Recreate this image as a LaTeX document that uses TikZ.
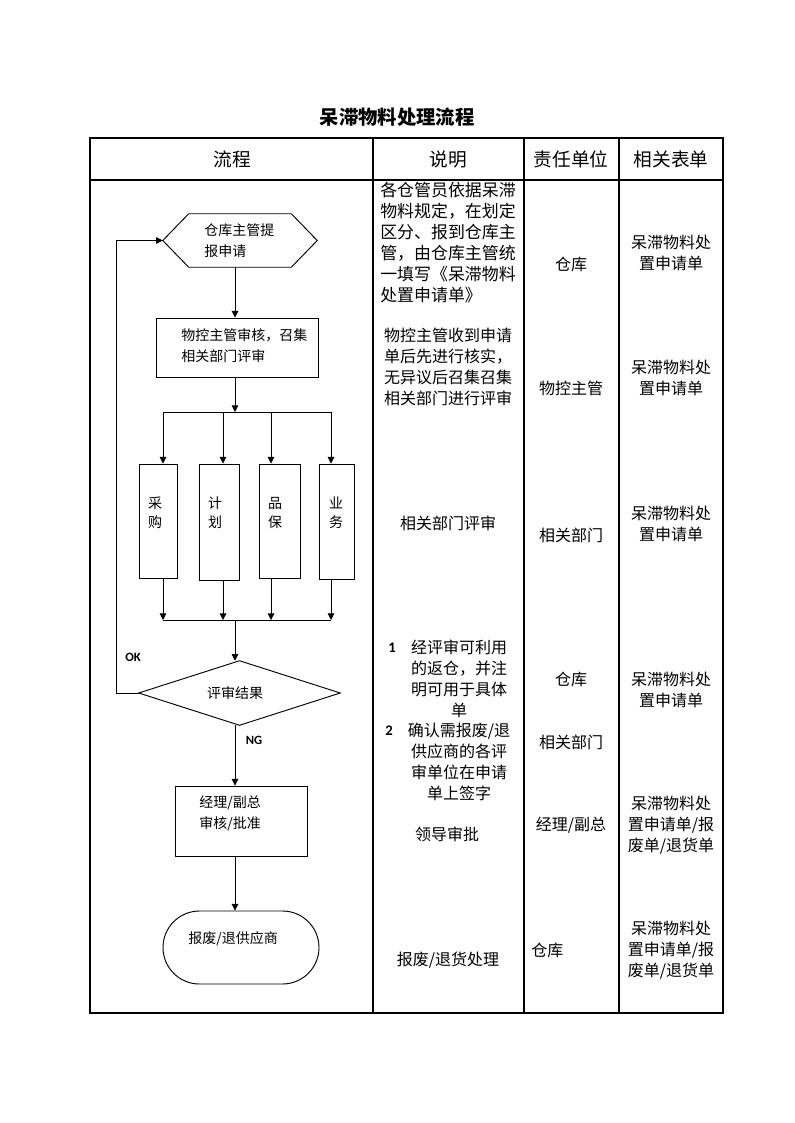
\documentclass[tikz,border=0pt]{standalone}
\usepackage{fontspec}
\setmainfont{Noto Sans CJK SC}
\newfontfamily\latinf{Carlito}
\usetikzlibrary{arrows.meta,shapes.misc,shapes.geometric}
\def\pxu{0.75pt}
\begin{document}
\begin{tikzpicture}[x=0.75pt,y=-0.75pt,
 flow/.style={line width=0.7pt},
 arr/.style={flow,-{Triangle[length=5pt,width=5pt]}},
 box/.style={draw,line width=0.7pt,inner sep=0pt},
 shp/.style={inner sep=0pt},
 ftxt/.style={font=\fontsize{10.5}{15.75}\selectfont,align=left,inner sep=0pt},
 vtxt/.style={font=\fontsize{10.5}{14.25}\selectfont,align=center,inner sep=0pt},
 ctxt/.style={font=\fontsize{12}{15.75}\selectfont,align=center,inner sep=0pt},
 htxt/.style={font=\fontsize{14}{16}\selectfont,inner sep=0pt},
 ltxt/.style={font=\latinf\bfseries\fontsize{9.5}{11}\selectfont,inner sep=0pt},
 ntxt/.style={font=\latinf\bfseries\fontsize{11}{12}\selectfont,inner sep=0pt},
 grid/.style={line width=0.9pt}]
\useasboundingbox (0,0) rectangle (794,1123);

% title
\node[font=\bfseries\fontsize{14.5}{16}\selectfont,inner sep=0pt] (title) at (397,117) {呆滞物料处理流程};

% table
\draw[grid] (90,138) rectangle (723,1013);
\draw[grid] (90,180) -- (723,180);
\draw[grid] (373,138) -- (373,1013);
\draw[grid] (524,138) -- (524,1013);
\draw[grid] (619,138) -- (619,1013);

\node[htxt] (h1) at (232,159) {流程};
\node[htxt] (h2) at (448,159) {说明};
\node[htxt] (h3) at (571,159) {责任单位};
\node[htxt] (h4) at (671,159) {相关表单};

% helper coordinates
\coordinate (trunk) at (235,0);
\coordinate (lp) at (116,0);
\coordinate (xA) at (163,0);
\coordinate (xB) at (223,0);
\coordinate (xC) at (271,0);
\coordinate (xD) at (331,0);
\coordinate (b1) at (235,412);
\coordinate (m1) at (235,620);

% hexagon
\node[shp,minimum width=154*\pxu,minimum height=53*\pxu] (hex) at (240,240.5) {};
\draw[flow] (hex.west) -- ([xshift=26*\pxu]hex.north west) -- ([xshift=-26*\pxu]hex.north east)
  -- (hex.east) -- ([xshift=-26*\pxu]hex.south east) -- ([xshift=26*\pxu]hex.south west) -- cycle;
\node[ftxt,anchor=west] (hext) at (204,241) {仓库主管提\\报申请};

% rect 1
\node[box,minimum width=162*\pxu,minimum height=59*\pxu] (r1) at (237,347.5) {};
\node[ftxt,anchor=west] (r1t) at (181,346) {物控主管审核，召集\\相关部门评审};

\draw[arr] (hex.south -| trunk) -- (r1.north -| trunk);
\draw[arr] (r1.south -| trunk) -- (b1);
\draw[flow] (b1 -| xA) -- (b1 -| xD);

% department boxes
\node[box,minimum width=38*\pxu,minimum height=114*\pxu] (bA) at (158,521) {};
\node[box,minimum width=40*\pxu,minimum height=116*\pxu] (bB) at (219,522) {};
\node[box,minimum width=41*\pxu,minimum height=114*\pxu] (bC) at (279.5,521) {};
\node[box,minimum width=35*\pxu,minimum height=115*\pxu] (bD) at (336.5,521.5) {};
\node[vtxt] (tA) at (155,512.5) {采\\购};
\node[vtxt] (tB) at (215,512.5) {计\\划};
\node[vtxt] (tC) at (275,512.5) {品\\保};
\node[vtxt] (tD) at (336,512.5) {业\\务};

\draw[arr] (b1 -| xA) -- (bA.north -| xA);
\draw[arr] (b1 -| xB) -- (bB.north -| xB);
\draw[arr] (b1 -| xC) -- (bC.north -| xC);
\draw[arr] (b1 -| xD) -- (bD.north -| xD);

\draw[arr] (bA.south -| xA) -- (m1 -| xA);
\draw[arr] (bB.south -| xB) -- (m1 -| xB);
\draw[arr] (bC.south -| xC) -- (m1 -| xC);
\draw[arr] (bD.south -| xD) -- (m1 -| xD);
\draw[flow] (m1 -| xA) -- (m1 -| xD);

% diamond
\node[shp,minimum width=201*\pxu,minimum height=64*\pxu] (dia) at (239.5,693) {};
\draw[flow] (dia.west) -- (dia.north) -- (dia.east) -- (dia.south) -- cycle;
\node[ftxt] (diat) at (235,693) {评审结果};
\draw[arr] (m1) -- (dia.north -| trunk);

% OK loop
\node[ltxt] (ok) at (133,657) {OK};
\draw[arr] (dia.west) -- (dia.west -| lp) -- (hex.west -| lp) -- (hex.west);

% NG
\node[ltxt] (ng) at (254,740) {NG};

% rect 3
\node[box,minimum width=132*\pxu,minimum height=70*\pxu] (r3) at (241,821) {};
\node[ftxt,anchor=west] (r3t) at (199,813.5) {经理/副总\\审核/批准};
\draw[arr] (dia.south -| trunk) -- (r3.north -| trunk);

% terminal
\node[box,rounded rectangle,minimum width=156*\pxu,minimum height=73*\pxu] (term) at (241,947.5) {};
\node[ftxt,anchor=west] (termt) at (188,939) {报废/退供应商};
\draw[arr] (r3.south -| trunk) -- (term.north -| trunk);

% column 2
\node[font=\fontsize{12.7}{15.75}\selectfont,align=left,inner sep=0pt] (c2a) at (448,243)
  {各仓管员依据呆滞\\物料规定，在划定\\区分、报到仓库主\\管，由仓库主管统\\一填写《呆滞物料\\处置申请单》};
\node[ctxt] (c2b) at (448,367) {物控主管收到申请\\单后先进行核实，\\无异议后召集召集\\相关部门进行评审};
\node[ctxt] (c2c) at (448,523) {相关部门评审};
\node[ntxt] (n1) at (392,648) {1};
\node[ctxt] (c2d) at (459,679) {经评审可利用\\的返仓，并注\\明可用于具体\\单};
\node[ntxt] (n2) at (389,731) {2};
\node[ctxt] (c2e) at (459,762) {确认需报废/退\\供应商的各评\\审单位在申请\\单上签字};
\node[ctxt] (c2f) at (447,834) {领导审批};
\node[ctxt] (c2g) at (448,960) {报废/退货处理};

% column 3
\node[ctxt] (c3a) at (571,264) {仓库};
\node[ctxt] (c3b) at (571,388) {物控主管};
\node[ctxt] (c3c) at (571,535) {相关部门};
\node[ctxt] (c3d) at (571,679) {仓库};
\node[ctxt] (c3e) at (571,742) {相关部门};
\node[ctxt] (c3f) at (571,825) {经理/副总};
\node[ctxt,anchor=west] (c3g) at (531,950) {仓库};

% column 4
\node[ctxt] (c4a) at (671,252.5) {呆滞物料处\\置申请单};
\node[ctxt] (c4b) at (671,377.5) {呆滞物料处\\置申请单};
\node[ctxt] (c4c) at (671,523.5) {呆滞物料处\\置申请单};
\node[ctxt] (c4d) at (671,689.5) {呆滞物料处\\置申请单};
\node[ctxt] (c4e) at (671,825) {呆滞物料处\\置申请单/报\\废单/退货单};
\node[ctxt] (c4f) at (671,950) {呆滞物料处\\置申请单/报\\废单/退货单};
\end{tikzpicture}
\end{document}
